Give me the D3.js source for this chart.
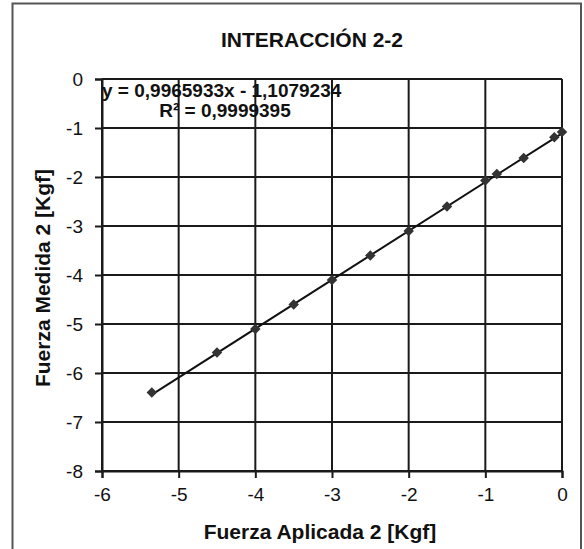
<!DOCTYPE html>
<html lang="es">
<head>
<meta charset="UTF-8">
<title>Interacción 2-2</title>
<script src="https://cdnjs.cloudflare.com/ajax/libs/d3/7.8.5/d3.min.js"></script>
<style>
  html, body { margin: 0; padding: 0; background: #fff; }
  svg { display: block; font-family: "Liberation Sans", Arial, sans-serif; }
</style>
</head>
<body>
<div id="chart"></div>
<script>
// valores
const fuerzaAplicada = [-5.35, -4.5, -4, -3.5, -3, -2.5, -2, -1.5, -1, -0.85, -0.5, -0.1, 0];
const fuerzaMedida   = [-6.4, -5.58, -5.1, -4.6, -4.1, -3.6, -3.1, -2.6, -2.07, -1.94, -1.61, -1.19, -1.08];
const xTicks = [-6, -5, -4, -3, -2, -1, 0];
const yTicks = [0, -1, -2, -3, -4, -5, -6, -7, -8];
const pendiente = 0.9965933, ordenada = -1.1079234;

const W = 584, H = 549;
const plot = { left: 102, right: 562, top: 79, bottom: 471 };

const svg = d3.select('#chart').append('svg')
  .attr('width', W).attr('height', H);

// marco exterior
svg.append('path')
  .attr('d', `M12.5,${H + 5} V3.5 H581 V${H + 5}`)
  .attr('fill', 'none').attr('stroke', '#555').attr('stroke-width', 2);

const x = d3.scaleLinear().domain([-6, 0]).range([plot.left, plot.right]);
const y = d3.scaleLinear().domain([-8, 0]).range([plot.bottom, plot.top]);

// rejilla
svg.append('g').selectAll('line').data(xTicks).join('line')
  .attr('x1', d => x(d)).attr('x2', d => x(d))
  .attr('y1', plot.top).attr('y2', plot.bottom)
  .attr('stroke', '#1a1a1a').attr('stroke-width', 2);
svg.append('g').selectAll('line').data(yTicks).join('line')
  .attr('x1', plot.left).attr('x2', plot.right)
  .attr('y1', d => y(d)).attr('y2', d => y(d))
  .attr('stroke', '#1a1a1a').attr('stroke-width', 2);

// ejes
const xAxis = svg.append('g')
  .attr('transform', `translate(0,${plot.bottom})`)
  .call(d3.axisBottom(x).tickValues(xTicks).tickSize(7).tickPadding(10).tickFormat(d3.format('d')));
const yAxis = svg.append('g')
  .attr('transform', `translate(${plot.left},0)`)
  .call(d3.axisLeft(y).tickValues(yTicks).tickSize(7).tickPadding(12).tickFormat(d3.format('d')));
[xAxis, yAxis].forEach(g => {
  g.select('.domain').attr('stroke', '#1a1a1a').attr('stroke-width', 2);
  g.selectAll('.tick line').attr('stroke', '#1a1a1a').attr('stroke-width', 2);
  g.selectAll('.tick text')
    .attr('font-family', '"Liberation Sans", Arial, sans-serif')
    .attr('font-size', 19).attr('fill', '#111')
    .text(d => d < 0 ? '-' + Math.abs(d) : d);
});

// línea de tendencia
const xMin = d3.min(fuerzaAplicada), xMax = d3.max(fuerzaAplicada);
svg.append('line')
  .attr('x1', x(xMin)).attr('y1', y(pendiente * xMin + ordenada))
  .attr('x2', x(xMax)).attr('y2', y(pendiente * xMax + ordenada))
  .attr('stroke', '#111').attr('stroke-width', 2);

// puntos (rombos)
const puntos = fuerzaAplicada.map((v, i) => ({ x: v, y: fuerzaMedida[i] }));
svg.append('g').selectAll('path').data(puntos).join('path')
  .attr('d', d3.symbol(d3.symbolDiamond2, 70))
  .attr('transform', d => `translate(${x(d.x)},${y(d.y)})`)
  .attr('fill', '#333');

// textos
svg.append('text')
  .attr('x', 312).attr('y', 47).attr('text-anchor', 'middle')
  .attr('font-size', 21).attr('font-weight', 'bold').attr('fill', '#111')
  .text('INTERACCIÓN 2-2');

svg.append('text')
  .attr('x', 102).attr('y', 97)
  .attr('font-size', 19).attr('font-weight', 'bold').attr('fill', '#111')
  .text('y = 0,9965933x - 1,1079234');
svg.append('text')
  .attr('x', 225).attr('y', 117).attr('text-anchor', 'middle')
  .attr('font-size', 19).attr('font-weight', 'bold').attr('fill', '#111')
  .text('R² = 0,9999395');

svg.append('text')
  .attr('x', 320).attr('y', 539).attr('text-anchor', 'middle')
  .attr('font-size', 21).attr('font-weight', 'bold').attr('fill', '#111')
  .text('Fuerza Aplicada 2 [Kgf]');
svg.append('text')
  .attr('transform', 'translate(50,278) rotate(-90)').attr('text-anchor', 'middle')
  .attr('font-size', 21).attr('font-weight', 'bold').attr('fill', '#111')
  .text('Fuerza Medida 2 [Kgf]');
</script>
</body>
</html>
